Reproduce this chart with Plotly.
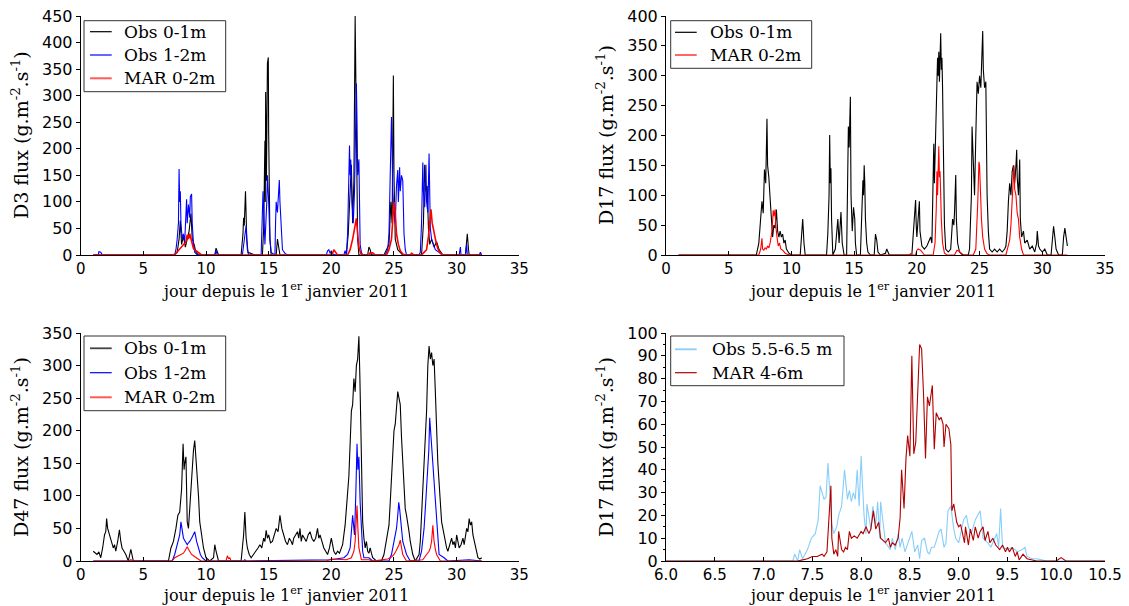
import plotly.graph_objects as go

# ---------------- DATA (day since 1 Jan 2011, flux g m-2 s-1) ----------------
# Panel D3
d3_obs01 = [(1.0,0),(7.5,0),(7.7,5),(7.85,30),(7.95,65),(8.05,20),(8.2,35),(8.35,15),(8.5,30),(8.65,45),
            (8.8,78),(8.9,30),(9.05,20),(9.2,5),(9.4,0),(10.7,0),(10.8,13),(10.9,5),(11.0,0),(12.8,0),
            (12.95,40),(13.0,70),(13.05,55),(13.15,120),(13.25,30),(13.35,5),(13.6,3),(13.9,0),(14.5,0),
            (14.6,50),(14.7,215),(14.73,100),(14.76,307),(14.82,140),(14.9,361),(14.97,372),(15.0,229),
            (15.03,100),(15.1,30),(15.2,0),(15.6,0),(15.7,30),(15.8,10),(15.9,0),(21.2,0),(21.35,40),
            (21.5,120),(21.6,170),(21.7,60),(21.8,140),(21.9,450),(21.95,330),(22.0,180),(22.1,30),
            (22.2,0),(22.9,0),(23.0,15),(23.1,10),(23.2,0),(24.2,0),(24.4,10),(24.6,20),(24.75,100),
            (24.85,60),(24.95,338),(25.0,150),(25.1,30),(25.3,10),(25.5,5),(25.7,0),(27.2,0),(27.35,60),
            (27.45,170),(27.55,120),(27.65,130),(27.75,50),(27.85,20),(28.0,30),(28.2,15),(28.4,25),
            (28.6,10),(28.9,0),(30.7,0),(30.85,40),(30.95,10),(31.0,0),(32.0,0)]
d3_obs12 = [(1.0,0),(1.4,0),(1.45,6),(1.6,5),(1.7,1),(1.8,0),(7.5,0),(7.6,10),(7.7,30),(7.8,60),(7.85,162),
            (7.9,100),(7.95,120),(8.0,60),(8.1,30),(8.2,40),(8.3,25),(8.4,70),(8.45,105),(8.5,60),(8.6,95),
            (8.7,70),(8.75,110),(8.85,115),(8.9,60),(9.0,20),(9.1,5),(9.3,0),(10.7,0),(10.8,8),(10.9,0),
            (12.9,0),(13.0,20),(13.1,45),(13.2,55),(13.3,10),(13.4,0),(14.4,0),(14.5,60),(14.55,120),
            (14.6,90),(14.65,50),(14.7,20),(14.85,100),(14.9,150),(15.0,100),(15.1,30),(15.2,5),(15.5,0),
            (15.55,60),(15.6,100),(15.7,80),(15.8,120),(15.85,141),(15.9,100),(16.0,40),(16.1,10),(16.3,3),
            (16.5,0),(19.6,0),(19.7,8),(19.8,10),(19.9,3),(20.0,8),(20.1,2),(20.3,0),(21.0,0),(21.1,8),
            (21.2,0),(21.3,40),(21.4,130),(21.45,206),(21.5,150),(21.55,180),(21.65,100),(21.75,60),
            (21.85,120),(21.9,200),(22.0,323),(22.05,250),(22.1,150),(22.2,180),(22.25,80),(22.3,20),
            (22.4,5),(22.5,0),(24.3,0),(24.5,10),(24.6,40),(24.7,150),(24.8,260),(24.85,200),(24.9,120),
            (25.0,80),(25.1,60),(25.2,130),(25.3,160),(25.35,100),(25.45,165),(25.5,120),(25.6,150),
            (25.7,140),(25.8,40),(25.9,10),(26.0,0),(27.0,0),(27.1,5),(27.2,60),(27.3,174),(27.35,120),
            (27.45,90),(27.55,170),(27.6,100),(27.7,80),(27.8,191),(27.85,120),(27.9,50),(28.0,30),
            (28.3,10),(28.6,5),(28.9,0),(30.2,0),(30.3,15),(30.35,0),(30.7,0),(30.8,20),(30.85,0),
            (31.8,0),(31.9,5),(32.0,0)]
d3_mar02 = [(1.0,0),(7.4,0),(7.6,3),(7.8,8),(8.0,15),(8.2,20),(8.4,25),(8.5,38),(8.6,30),(8.7,40),(8.8,32),
            (8.9,20),(9.0,12),(9.2,8),(9.4,4),(9.6,1),(9.8,0),(19.9,0),(20.1,3),(20.2,10),(20.35,5),
            (20.5,0),(21.3,0),(21.5,10),(21.7,30),(21.85,50),(21.95,58),(22.0,69),(22.1,40),(22.2,15),
            (22.35,3),(22.5,0),(23.0,0),(23.1,4),(23.3,4),(23.5,0),(24.4,0),(24.6,10),(24.8,30),(24.9,60),
            (25.0,100),(25.1,80),(25.2,40),(25.35,20),(25.5,8),(25.7,2),(25.9,0),(26.3,0),(26.4,3),
            (26.6,0),(27.2,0),(27.4,5),(27.6,10),(27.75,35),(27.85,60),(27.95,86),(28.05,60),(28.2,40),
            (28.35,25),(28.5,12),(28.7,3),(28.9,0),(32.0,0)]

# Panel D17 (surface)
d17_obs01 = [(1.0,0),(7.2,0),(7.4,20),(7.55,60),(7.65,90),(7.75,70),(7.85,143),(7.95,120),(8.05,228),
             (8.1,150),(8.2,130),(8.3,95),(8.4,60),(8.5,30),(8.6,50),(8.7,45),(8.8,76),(8.9,40),(9.0,30),
             (9.1,40),(9.2,30),(9.3,35),(9.4,20),(9.5,25),(9.6,10),(9.8,3),(10.0,0),(10.7,0),(10.8,30),
             (10.9,60),(11.0,20),(11.1,0),(12.8,0),(12.9,35),(13.0,100),(13.05,201),(13.1,120),(13.15,145),
             (13.2,60),(13.3,0),(13.5,10),(13.6,30),(13.7,60),(13.8,20),(13.9,70),(13.95,72),(14.05,20),
             (14.2,0),(14.4,0),(14.5,120),(14.54,215),(14.6,180),(14.7,265),(14.75,100),(14.85,40),
             (14.95,80),(15.05,60),(15.1,20),(15.2,0),(15.5,0),(15.6,60),(15.7,125),(15.75,100),(15.8,150),
             (15.85,120),(15.9,60),(16.0,20),(16.1,5),(16.3,0),(16.6,0),(16.7,35),(16.8,25),(16.9,5),
             (17.1,0),(17.5,3),(17.6,10),(17.7,5),(17.8,0),(19.6,0),(19.75,40),(19.9,92),(19.95,50),
             (20.0,30),(20.1,60),(20.2,90),(20.25,40),(20.4,15),(20.6,10),(20.8,15),(21.0,25),(21.1,30),
             (21.2,20),(21.3,100),(21.35,186),(21.4,120),(21.5,200),(21.55,250),(21.65,330),(21.7,300),
             (21.75,340),(21.8,290),(21.85,320),(21.9,371),(21.95,310),(22.0,330),(22.05,280),(22.1,200),
             (22.2,50),(22.3,10),(22.5,5),(22.7,10),(22.85,60),(22.95,50),(23.0,70),(23.1,134),(23.15,60),
             (23.25,20),(23.4,5),(23.7,0),(24.1,0),(24.2,10),(24.35,100),(24.4,215),(24.5,150),(24.6,100),
             (24.7,200),(24.8,290),(24.9,270),(25.0,300),(25.1,280),(25.2,330),(25.25,375),(25.3,310),
             (25.4,280),(25.5,290),(25.55,190),(25.6,100),(25.7,40),(25.8,10),(26.0,5),(26.2,10),(26.4,5),
             (26.6,10),(26.8,5),(27.0,10),(27.1,15),(27.2,40),(27.3,90),(27.4,120),(27.5,100),(27.6,140),
             (27.7,150),(27.8,120),(27.9,150),(27.96,176),(28.0,130),(28.1,100),(28.2,160),(28.25,60),
             (28.35,30),(28.5,40),(28.6,20),(28.8,25),(29.0,10),(29.2,15),(29.4,5),(29.55,20),(29.6,40),
             (29.7,15),(29.8,10),(30.0,5),(30.2,10),(30.4,0),(30.7,0),(30.8,30),(30.9,48),(31.0,30),
             (31.1,10),(31.3,0),(31.6,0),(31.7,30),(31.8,45),(31.9,30),(32.0,15)]
d17_mar02 = [(1.0,0),(7.4,0),(7.55,10),(7.65,28),(7.7,10),(7.8,8),(7.9,12),(8.0,10),(8.1,15),(8.2,12),
             (8.3,20),(8.45,40),(8.55,75),(8.6,65),(8.7,76),(8.75,50),(8.85,30),(8.95,15),(9.05,20),
             (9.15,10),(9.3,8),(9.5,3),(9.7,1),(9.9,0),(19.4,0),(19.5,2),(19.6,0),(19.9,0),(20.0,8),
             (20.1,10),(20.3,8),(20.45,3),(20.6,0),(21.3,0),(21.45,20),(21.55,80),(21.6,140),(21.65,100),
             (21.75,182),(21.8,130),(21.85,140),(21.95,60),(22.05,20),(22.2,3),(22.4,0),(23.0,0),(23.2,8),
             (23.4,6),(23.6,0),(24.5,0),(24.7,10),(24.85,85),(24.9,130),(24.95,156),(25.0,150),(25.05,110),
             (25.15,60),(25.25,30),(25.4,10),(25.6,2),(25.8,0),(27.1,0),(27.25,15),(27.4,25),(27.5,50),
             (27.6,100),(27.65,120),(27.74,150),(27.8,110),(27.9,100),(28.0,70),(28.1,60),(28.2,30),
             (28.35,10),(28.5,0),(32.0,0)]

# Panel D47
d47_obs01 = [(1.0,15),(1.15,12),(1.3,10),(1.45,14),(1.6,5),(1.75,20),(1.9,40),(2.0,45),(2.07,65),(2.15,50),
             (2.3,40),(2.45,30),(2.6,20),(2.7,25),(2.8,15),(2.95,30),(3.09,48),(3.2,30),(3.3,20),(3.45,15),
             (3.6,10),(3.8,0),(4.0,18),(4.2,0),(7.0,0),(7.2,20),(7.4,30),(7.6,50),(7.75,70),(7.9,75),
             (8.05,110),(8.17,180),(8.25,140),(8.3,150),(8.4,160),(8.45,110),(8.5,60),(8.6,50),(8.7,80),
             (8.8,120),(8.9,150),(9.0,170),(9.1,185),(9.2,160),(9.3,130),(9.4,100),(9.5,60),(9.65,40),
             (9.8,20),(10.0,5),(10.3,0),(10.6,5),(10.7,25),(10.8,15),(10.9,5),(11.0,0),(12.8,0),(13.0,40),
             (13.1,75),(13.2,35),(13.3,20),(13.45,10),(13.6,5),(13.8,10),(14.0,15),(14.15,20),(14.3,25),
             (14.45,20),(14.6,35),(14.7,30),(14.8,47),(14.9,35),(15.0,40),(15.15,28),(15.3,30),(15.45,40),
             (15.6,50),(15.75,45),(15.9,70),(16.05,50),(16.2,40),(16.35,30),(16.5,25),(16.65,35),(16.8,30),
             (16.9,25),(17.0,35),(17.15,40),(17.3,45),(17.4,35),(17.5,50),(17.6,30),(17.7,40),(17.85,35),
             (18.0,30),(18.15,40),(18.3,45),(18.45,35),(18.6,30),(18.75,35),(18.9,50),(19.0,35),(19.1,40),
             (19.25,30),(19.4,20),(19.55,15),(19.7,10),(19.85,20),(20.0,35),(20.1,25),(20.2,15),(20.35,10),
             (20.5,15),(20.65,12),(20.8,20),(20.9,25),(21.0,40),(21.1,55),(21.2,80),(21.3,100),(21.4,130),
             (21.5,180),(21.6,230),(21.7,240),(21.8,280),(21.9,260),(22.0,300),(22.1,310),(22.2,345),
             (22.28,280),(22.35,200),(22.42,120),(22.5,60),(22.6,35),(22.7,20),(22.8,30),(22.9,15),(23.0,12),
             (23.1,20),(23.2,12),(23.3,5),(23.6,0),(24.0,0),(24.2,10),(24.3,20),(24.4,30),(24.5,45),
             (24.6,55),(24.7,90),(24.8,130),(24.9,180),(25.0,200),(25.1,210),(25.2,240),(25.3,260),
             (25.4,250),(25.5,240),(25.6,190),(25.7,150),(25.8,100),(25.9,80),(26.0,70),(26.1,60),
             (26.2,45),(26.3,30),(26.4,20),(26.5,10),(26.7,0),(27.0,10),(27.1,30),(27.2,70),(27.3,110),
             (27.4,150),(27.5,190),(27.6,230),(27.7,300),(27.8,330),(27.9,310),(28.0,320),(28.1,300),
             (28.2,310),(28.3,260),(28.4,200),(28.5,150),(28.6,120),(28.7,80),(28.8,60),(28.9,50),(29.0,40),
             (29.1,25),(29.2,20),(29.3,15),(29.45,25),(29.6,35),(29.7,25),(29.8,30),(29.9,20),(30.0,40),
             (30.1,30),(30.2,20),(30.35,25),(30.5,35),(30.6,25),(30.7,40),(30.8,50),(30.9,45),(31.0,65),
             (31.1,55),(31.2,60),(31.3,40),(31.4,30),(31.5,20),(31.6,10),(31.7,5),(31.85,3),(32.0,5)]
d47_obs12 = [(1.0,0),(7.3,0),(7.5,10),(7.65,20),(7.8,30),(7.9,40),(8.0,60),(8.1,45),(8.2,35),(8.35,30),
             (8.5,25),(8.6,28),(8.7,30),(8.85,35),(9.0,40),(9.1,45),(9.25,30),(9.4,20),(9.55,10),(9.7,5),
             (10.0,0),(13.0,0),(13.1,2),(13.2,0),(20.0,2),(21.0,5),(21.3,10),(21.5,20),(21.6,40),(21.7,70),
             (21.8,50),(21.85,40),(21.95,100),(22.05,180),(22.12,140),(22.2,160),(22.3,90),(22.4,40),
             (22.5,15),(22.6,5),(23.0,5),(23.3,0),(24.6,0),(24.8,10),(25.0,30),(25.1,40),(25.2,50),
             (25.3,70),(25.38,90),(25.45,80),(25.55,60),(25.7,30),(25.85,20),(26.0,10),(26.3,0),(27.0,0),
             (27.2,15),(27.3,30),(27.4,50),(27.5,80),(27.6,110),(27.7,130),(27.78,170),(27.85,220),
             (27.92,200),(28.0,180),(28.1,150),(28.2,120),(28.3,80),(28.4,50),(28.5,25),(28.6,10),(29.0,5),
             (29.3,0),(31.0,2),(32.0,0)]
d47_mar02 = [(1.0,0),(3.9,0),(4.0,2),(4.2,0),(7.3,0),(7.5,5),(7.8,8),(8.0,10),(8.2,12),(8.3,15),(8.4,18),
             (8.5,22),(8.6,18),(8.7,15),(8.85,10),(9.0,8),(9.15,6),(9.3,5),(9.6,0),(11.6,0),(11.7,8),
             (11.8,4),(11.9,5),(12.0,0),(19.6,0),(20.0,3),(21.2,2),(21.6,5),(21.8,15),(21.9,30),(22.0,60),
             (22.05,85),(22.12,50),(22.2,20),(22.4,2),(23.0,2),(23.3,0),(24.5,3),(24.8,6),(25.0,10),
             (25.15,15),(25.3,20),(25.4,25),(25.5,32),(25.6,18),(25.7,10),(26.0,0),(27.3,2),(27.6,10),
             (27.8,15),(27.9,20),(28.0,30),(28.1,55),(28.15,40),(28.2,30),(28.3,18),(28.4,10),(28.7,0),
             (32.0,0)]

# Panel D17 (4-6 m)
d17_obs_high = [(6.0,0),(7.3,0),(7.32,3),(7.35,0),(7.37,5),(7.4,1),(7.45,5),(7.49,10),(7.53,12),(7.56,18),
                (7.58,33),(7.62,27),(7.64,28),(7.66,43),(7.7,16),(7.72,12),(7.75,15),(7.77,20),(7.8,24),
                (7.83,40),(7.86,27),(7.88,31),(7.9,26),(7.92,30),(7.94,27),(7.96,40),(7.98,24),(8.0,46),
                (8.03,20),(8.05,12),(8.06,25),(8.1,14),(8.12,24),(8.15,16),(8.17,26),(8.19,10),(8.2,26),
                (8.25,8),(8.3,5),(8.32,10),(8.35,5),(8.38,12),(8.4,6),(8.42,10),(8.45,4),(8.48,8),(8.52,13),
                (8.55,4),(8.58,7),(8.6,1),(8.62,9),(8.65,10),(8.68,4),(8.7,3),(8.72,6),(8.75,6),(8.78,10),
                (8.8,13),(8.82,14),(8.85,6),(8.87,8),(8.89,22),(8.92,24),(8.95,14),(8.97,10),(9.0,8),(9.02,12),
                (9.05,18),(9.08,20),(9.1,15),(9.13,12),(9.17,18),(9.22,22),(9.25,10),(9.3,8),(9.33,6),
                (9.39,12),(9.41,6),(9.43,23),(9.45,6),(9.5,5),(9.55,6),(9.6,4),(9.65,5),(9.68,6),(9.7,2),
                (9.75,1),(9.8,1),(9.85,0.5),(9.9,0),(10.5,0)]
d17_mar_high = [(6.0,0),(7.35,0),(7.4,0.5),(7.45,1),(7.5,2),(7.55,2),(7.6,3),(7.62,2),(7.65,4),(7.69,33),
                (7.7,10),(7.72,3),(7.74,5),(7.76,2),(7.77,13),(7.8,5),(7.82,4),(7.84,6),(7.86,5),(7.88,13),
                (7.9,10),(7.93,11),(7.96,10),(8.0,13),(8.02,12),(8.05,15),(8.08,12),(8.1,14),(8.125,22),
                (8.15,14),(8.18,17),(8.2,10),(8.25,8),(8.28,10),(8.3,6),(8.32,8),(8.35,7),(8.38,10),(8.4,19),
                (8.415,40),(8.44,23),(8.46,45),(8.477,55),(8.5,46),(8.52,90),(8.54,47),(8.56,52),(8.6,95),
                (8.62,93),(8.64,73),(8.66,45),(8.68,72),(8.7,68),(8.73,77),(8.75,49),(8.77,65),(8.8,62),
                (8.82,63),(8.84,60),(8.85,50),(8.87,60),(8.9,58),(8.92,51),(8.93,22),(8.95,25),(8.98,17),
                (9.0,15),(9.02,16),(9.06,8),(9.07,15),(9.1,7),(9.12,14),(9.15,9),(9.17,15),(9.2,10),
                (9.22,13),(9.25,15),(9.27,9),(9.3,13),(9.32,8),(9.35,10),(9.38,7),(9.42,5),(9.45,7),(9.48,4),
                (9.5,6),(9.52,4),(9.55,6),(9.58,2),(9.6,4),(9.62,0.5),(9.66,3),(9.7,1),(9.75,0.5),(9.8,0),
                (10.0,0),(10.05,1.5),(10.1,0),(10.5,0)]

x_title = "jour depuis le 1<sup>er</sup> janvier 2011"
y_titles = ["D3 flux (g.m<sup>-2</sup>.s<sup>-1</sup>)", "D17 flux (g.m<sup>-2</sup>.s<sup>-1</sup>)",
            "D47 flux (g.m<sup>-2</sup>.s<sup>-1</sup>)", "D17 flux (g.m<sup>-2</sup>.s<sup>-1</sup>)"]

# ---------------- FIGURE ----------------
# The page body has an 8 px margin, so the figure is 8 px smaller and page positions are shifted.
OFF = 8
W, H = 1129 - OFF, 606 - OFF
SERIF = "DejaVu Serif"
SANS = "DejaVu Sans"

def px(p):
    return (p - OFF) / W

def py(p):
    return 1 - (p - OFF) / H

fig = go.Figure()

def add(series, name, color, xa, ya, width=1.1):
    fig.add_trace(go.Scatter(x=[p[0] for p in series], y=[p[1] for p in series], mode="lines",
                             name=name, line=dict(color=color, width=width),
                             xaxis=xa, yaxis=ya, showlegend=False))

add(d3_obs01, "Obs 0-1m", "black", "x", "y")
add(d3_obs12, "Obs 1-2m", "#0000ff", "x", "y")
add(d3_mar02, "MAR 0-2m", "#ff0000", "x", "y", 1.6)

add(d17_obs01, "Obs 0-1m", "black", "x2", "y2")
add(d17_mar02, "MAR 0-2m", "#ff0000", "x2", "y2")

add(d47_obs01, "Obs 0-1m", "black", "x3", "y3")
add(d47_obs12, "Obs 1-2m", "#0000ff", "x3", "y3")
add(d47_mar02, "MAR 0-2m", "#ff0000", "x3", "y3")

add(d17_obs_high, "Obs 5.5-6.5 m", "#87cefa", "x4", "y4")
add(d17_mar_high, "MAR 4-6m", "#b00000", "x4", "y4")

ytickfont = dict(family=SANS, size=16, color="black")
xtickfont = dict(family=SANS, size=15, color="black")
base_x = dict(showline=True, linecolor="black", linewidth=1, showgrid=False, zeroline=False,
              ticks="inside", ticklen=4, tickcolor="black", tickfont=xtickfont, automargin=False,
              ticklabeloverflow="allow")
base_y = dict(showline=True, linecolor="black", linewidth=1, showgrid=False, zeroline=False,
              ticks="outside", ticklen=4, tickcolor="black", tickfont=ytickfont, automargin=False,
              ticklabeloverflow="allow")

left = [px(80.7), px(519.3)]
right = [px(666), px(1105)]
top = [py(255), py(16)]
bottom = [py(561), py(333)]

fig.update_layout(
    width=W, height=H, margin=dict(l=0, r=0, t=0, b=0, autoexpand=False),
    paper_bgcolor="white", plot_bgcolor="white", showlegend=False,
    xaxis=dict(base_x, domain=left, range=[0, 35], dtick=5, anchor="y"),
    yaxis=dict(base_y, domain=top, range=[0, 450], dtick=50, anchor="x"),
    xaxis2=dict(base_x, domain=right, range=[0, 35], dtick=5, anchor="y2"),
    yaxis2=dict(base_y, domain=top, range=[0, 400], dtick=50, anchor="x2"),
    xaxis3=dict(base_x, domain=left, range=[0, 35], dtick=5, anchor="y3"),
    yaxis3=dict(base_y, domain=bottom, range=[0, 350], dtick=50, anchor="x3"),
    xaxis4=dict(base_x, domain=right, range=[6, 10.5], dtick=0.5, tickformat=".1f", anchor="y4"),
    yaxis4=dict(base_y, domain=bottom, range=[0, 100], dtick=10, anchor="x4",
                minor=dict(dtick=5, ticks="outside", ticklen=2, tickcolor="black")),
)

# ---- legends drawn as boxes with sample lines and text ----
legends = [
    ((84, 20.7, 225.7, 91.7), (90, 111.7), 121.7,
     [(31.7, "black", 1.2, "Obs 0-1m"), (55, "#0000ff", 1.2, "Obs 1-2m"), (78.3, "#ff5a5a", 2, "MAR 0-2m")]),
    ((670.7, 20.7, 811.7, 68.3), (675, 696.7), 707.7,
     [(32.3, "black", 1.2, "Obs 0-1m"), (55, "#ff0000", 1.2, "MAR 0-2m")]),
    ((84, 336, 225.7, 410.7), (90, 111.7), 121.7,
     [(348.3, "#444444", 1.8, "Obs 0-1m"), (372.7, "#0000ff", 1.2, "Obs 1-2m"), (397.3, "#ff5a5a", 2, "MAR 0-2m")]),
    ((670.7, 336, 844, 385.7), (675, 696.7), 710,
     [(349.3, "#87cefa", 1.8, "Obs 5.5-6.5 m"), (372.7, "#b00000", 1.2, "MAR 4-6m")]),
]
shapes = []
ann = []
legfont = dict(family=SERIF, size=17, color="black")
for (bx0, by0, bx1, by1), (lx0, lx1), tx, rows in legends:
    shapes.append(dict(type="rect", xref="paper", yref="paper", x0=px(bx0), x1=px(bx1), y0=py(by1), y1=py(by0),
                       line=dict(color="#333333", width=1), fillcolor="white", layer="above"))
    for (ry, col, lw, label) in rows:
        shapes.append(dict(type="line", xref="paper", yref="paper", x0=px(lx0), x1=px(lx1), y0=py(ry), y1=py(ry),
                           line=dict(color=col, width=lw), layer="above"))
        ann.append(dict(text=label, x=px(tx), y=py(ry), xref="paper", yref="paper", showarrow=False,
                        xanchor="left", yanchor="middle", font=legfont))

for (xc, yc) in [(285, 290), (872, 290), (285, 594), (872, 594)]:
    ann.append(dict(text=x_title, x=px(xc), y=py(yc), xref="paper", yref="paper", showarrow=False,
                    xanchor="center", yanchor="middle", font=dict(family=SERIF, size=16, color="black")))
for (xc, yc), t in zip([(20, 135), (605, 135), (20, 447), (605, 447)], y_titles):
    ann.append(dict(text=t, x=px(xc), y=py(yc), xref="paper", yref="paper", showarrow=False,
                    textangle=-90, xanchor="center", yanchor="middle",
                    font=dict(family=SERIF, size=19, color="black")))
fig.update_layout(shapes=shapes, annotations=ann)

fig.write_html("out.html")
